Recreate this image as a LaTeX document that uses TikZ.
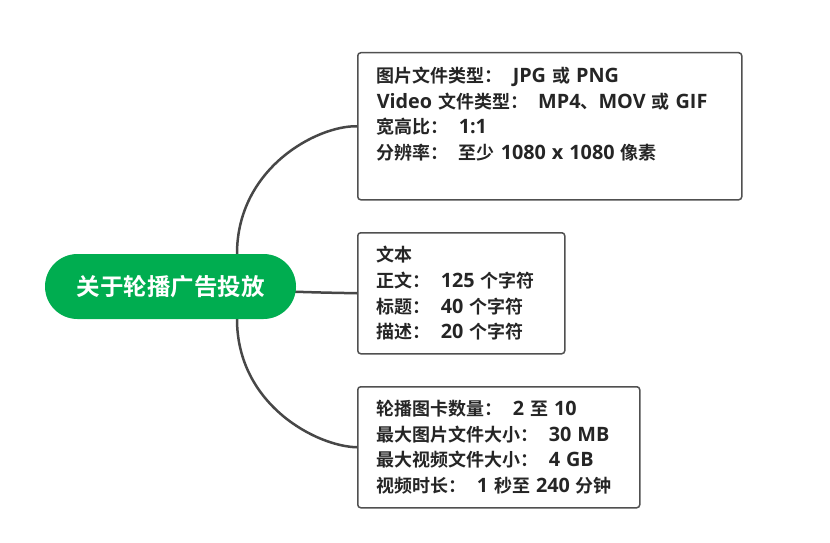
\documentclass[tikz,border=0pt]{standalone}
\usepackage{fontspec}
\setmainfont{Noto Sans CJK SC}[BoldFont={Noto Sans CJK SC Bold}, WordSpace=1.6]
\newfontfamily\latfont{Open Sans}[BoldFont={Open Sans Bold}, WordSpace=1.3, Scale=1.1]
\newcommand{\La}[1]{{\latfont\bfseries #1}}
\newcommand{\cs}{\hspace{10pt}}
\definecolor{rootgreen}{HTML}{00AD50}
\definecolor{linegray}{HTML}{474747}
\definecolor{boxgray}{HTML}{505050}
\definecolor{txtgray}{HTML}{252525}
\tikzset{
  infobox/.style={draw=boxgray, line width=1.5pt, rounded corners=3pt, anchor=north west,
    inner xsep=19pt, inner ysep=0pt, align=left, text=txtgray,
    font=\fontsize{18pt}{25.8pt}\selectfont\bfseries},
  rootnode/.style={fill=rootgreen, rounded corners=32.5pt, text=white,
    minimum width=251pt, minimum height=65pt, inner sep=0pt,
    font=\fontsize{23.5pt}{28pt}\selectfont\bfseries},
  conn/.style={draw=linegray, line width=2.5pt}
}
\begin{document}
\begin{tikzpicture}[x=1pt,y=-1pt]
\useasboundingbox (0,0) rectangle (830,543);
\coordinate (rc) at (170.5,286.5);
\node[infobox, minimum height=147pt, text width=346pt] (b1) at (357,52)
  {图片文件类型：\cs\La{JPG} 或 \La{PNG}\\
   \La{Video} 文件类型：\cs\La{MP4}、\La{MOV} 或 \La{GIF}\\
   宽高比：\cs\La{1:1}\\
   分辨率：\cs 至少 \La{1080 x 1080} 像素\\
   \mbox{}};
\node[infobox, minimum height=121pt, text width=169pt] (b2) at (357,232)
  {文本\\
   正文：\cs\La{125} 个字符\\
   标题：\cs\La{40} 个字符\\
   描述：\cs\La{20} 个字符};
\node[infobox, minimum height=121pt, text width=244pt] (b3) at (357,386)
  {轮播图卡数量：\cs\La{2} 至 \La{10}\\
   最大图片文件大小：\cs\La{30 MB}\\
   最大视频文件大小：\cs\La{4 GB}\\
   视频时长：\cs\La{1} 秒至 \La{240} 分钟};
\coordinate (t1) at (237,286.5);
\draw[conn] (t1) -- (237,254) .. controls (237,168) and (317,125.5) .. (b1.west);
\draw[conn] (rc) .. controls (300,292.5) and (320,292.5) .. (b2.west);
\draw[conn] (t1) -- (237,319) .. controls (237,405) and (317,446.5) .. (b3.west);
\node[rootnode] (root) at (rc) {关于轮播广告投放};
\end{tikzpicture}
\end{document}
